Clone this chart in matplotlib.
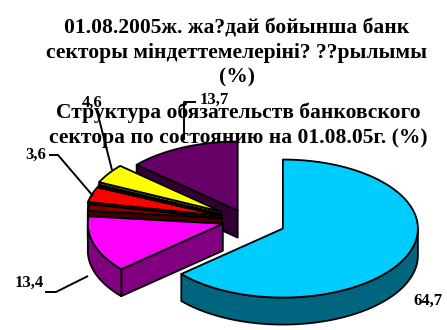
import numpy as np
import matplotlib.pyplot as plt
from matplotlib.patches import Polygon

# slice values (clockwise from 12 o'clock)
values = [64.7, 13.4, 1.5, 3.6, 0.3, 4.6, 13.7]
labels = ["64,7", "13,4", "", "3,6", "", "4,6", "13,7"]
top_colors = ["#00ccff", "#ff00ff", "#800000", "#ff0000", "#999900", "#ffff00", "#660066"]
side_colors = ["#006680", "#800080", "#400000", "#800000", "#4d4d00", "#808000", "#330033"]
explode = [0.30, 0.18, 0.18, 0.20, 0.20, 0.22, 0.15]

title_kz = "01.08.2005ж. жа?дай бойынша банк\nсекторы міндеттемелеріні? ??рылымы\n(%)"
title_ru = "Структура обязательств банковского\nсектора по состоянию на 01.08.05г. (%)"

fig = plt.figure(figsize=(4.47, 3.30), dpi=100)
ax = fig.add_axes([0, 0, 1, 1])
ax.set_xlim(0, 447)
ax.set_ylim(330, 0)
ax.axis("off")

cx, cy = 246, 220
rx, ry, depth = 135, 69, 27
lw = 1.3


def pt(c, th, dz=0.0):
    r = np.radians(th)
    return np.column_stack([c[0] + rx * np.cos(r), c[1] - ry * np.sin(r) + dz])


total = sum(values)
slices = []
start = 90.0
for i, v in enumerate(values):
    span = v / total * 360
    hi, lo = start, start - span
    mid = (hi + lo) / 2
    m = np.radians(mid)
    e = explode[i]
    c = (cx + e * rx * np.cos(m), cy - e * ry * np.sin(m))
    slices.append((i, lo, hi, mid, c))
    start = lo

# back to front
slices.sort(key=lambda s: -np.sin(np.radians(s[3])))

for i, lo, hi, mid, c in slices:
    kw = dict(edgecolor="black", lw=lw, joinstyle="round")
    # radial faces
    for th, vis in ((hi, np.cos(np.radians(hi)) < -1e-6), (lo, np.cos(np.radians(lo)) > 1e-6)):
        if vis:
            p = pt(c, [th])[0]
            face = [c, p, (p[0], p[1] + depth), (c[0], c[1] + depth)]
            ax.add_patch(Polygon(face, closed=True, facecolor=side_colors[i], **kw))
    # outer wall (front half)
    ths = np.linspace(lo, hi, 400)
    front = ths[np.sin(np.radians(ths)) < 0]
    if len(front) > 1:
        upper = pt(c, front)
        lower = pt(c, front[::-1], depth)
        ax.add_patch(Polygon(np.vstack([upper, lower]), closed=True,
                             facecolor=side_colors[i], **kw))
    # top surface
    top = np.vstack([[c], pt(c, ths)])
    ax.add_patch(Polygon(top, closed=True, facecolor=top_colors[i], **kw))

font = dict(family="Liberation Serif", weight="bold", color="black")
ax.text(237, 53, title_kz, ha="center", va="center", fontsize=15.5,
        linespacing=1.3, zorder=5, **font)
ax.text(238, 125, title_ru, ha="center", va="center", fontsize=15.5,
        linespacing=1.3, zorder=5, **font)

# data labels with leader lines
lab_pos = {0: (428, 301), 1: (29, 283), 3: (36, 155), 5: (92, 103), 6: (214, 100)}
leaders = {
    1: [(45, 292), (56, 292), (88, 276)],
    3: [(49, 155), (58, 155), (93, 196)],
    5: [(97, 111), (112, 170)],
    6: [(196, 102), (184, 102), (184, 140)],
}
for i, (x, y) in lab_pos.items():
    ax.text(x, y, labels[i], ha="center", va="center", fontsize=12, zorder=6, **font)
for i, pts in leaders.items():
    xs, ys = zip(*pts)
    ax.plot(xs, ys, color="black", lw=1.4, zorder=6, solid_capstyle="butt")

fig.savefig("out.png", dpi=100)
